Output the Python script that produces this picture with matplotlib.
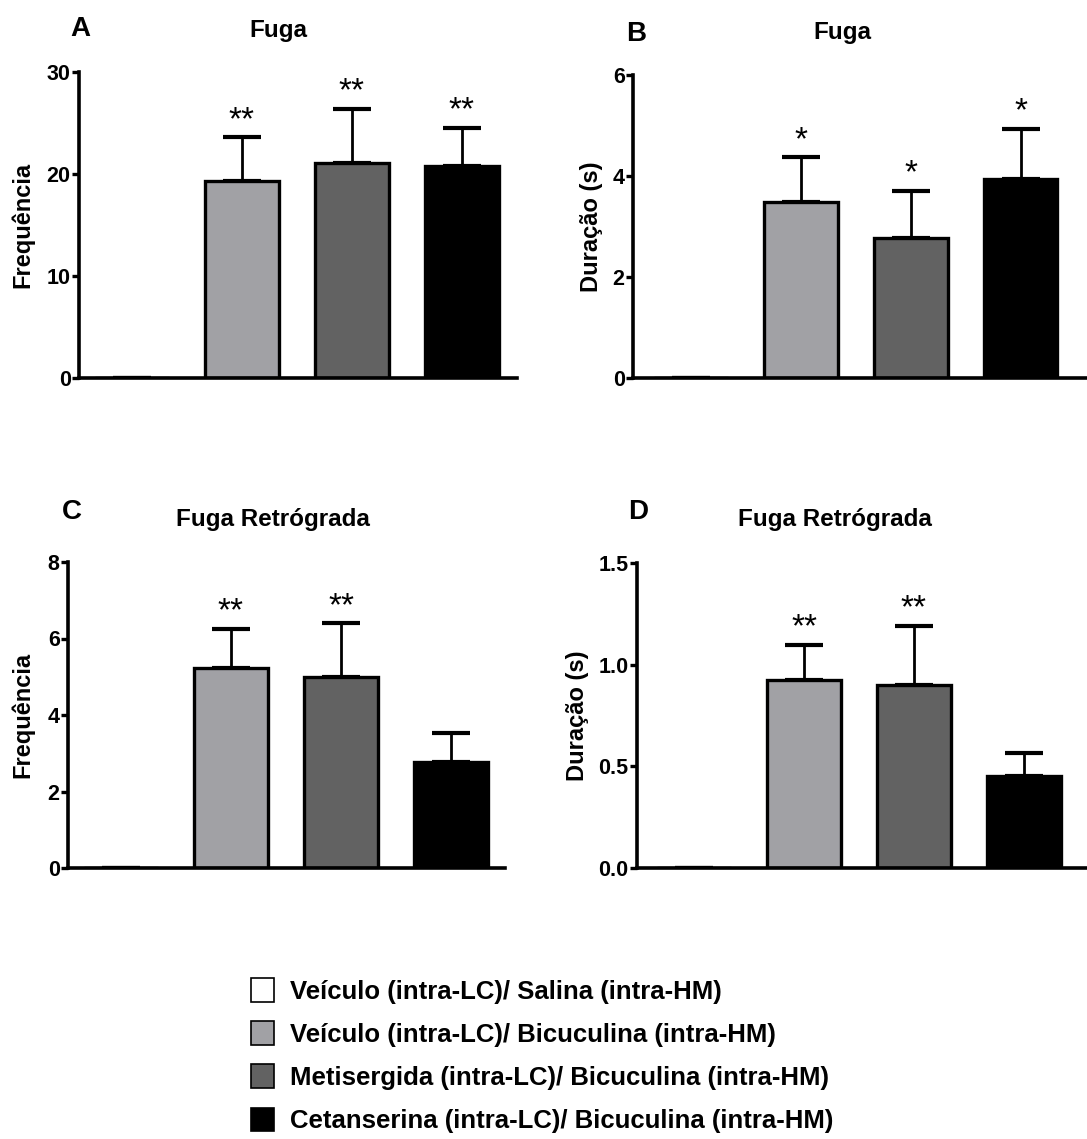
#!/usr/bin/env python3
"""Fuga / Fuga Retrograda bar panels (A-D) with a shared legend."""

import matplotlib
matplotlib.use("Agg")
import matplotlib.pyplot as plt
from matplotlib.patches import Patch

plt.rcParams["font.family"] = ["Liberation Sans", "DejaVu Sans"]
plt.rcParams["font.weight"] = "bold"

W, H = 1087, 1139

groups = [
    "Veículo (intra-LC)/ Salina (intra-HM)",
    "Veículo (intra-LC)/ Bicuculina (intra-HM)",
    "Metisergida (intra-LC)/ Bicuculina (intra-HM)",
    "Cetanserina (intra-LC)/ Bicuculina (intra-HM)",
]
colors = ["#FFFFFF", "#A1A1A5", "#626262", "#000000"]

fuga_freq = [0, 19.3, 21.1, 20.8]
fuga_freq_sem = [0, 4.3, 5.3, 3.7]
fuga_freq_sig = ["", "**", "**", "**"]

fuga_dur = [0, 3.49, 2.77, 3.94]
fuga_dur_sem = [0, 0.88, 0.94, 0.99]
fuga_dur_sig = ["", "*", "*", "*"]

retro_freq = [0, 5.23, 4.99, 2.77]
retro_freq_sem = [0, 1.02, 1.41, 0.76]
retro_freq_sig = ["", "**", "**", ""]

retro_dur = [0, 0.925, 0.90, 0.452]
retro_dur_sem = [0, 0.172, 0.29, 0.114]
retro_dur_sig = ["", "**", "**", ""]


def px_axes(fig, left, right, top, bottom):
    return fig.add_axes([left / W, 1 - bottom / H, (right - left) / W, (bottom - top) / H])


def panel(ax, box, means, sems, sig, ymax, yticks, ticklabels, xlim, ylabel, label_x,
          title, letter, title_xy, letter_xy):
    left, right, top, bottom = box
    x = list(range(len(means)))
    ax.errorbar(x, means, yerr=[[0] * len(sems), sems], fmt="none", ecolor="black",
                elinewidth=2.0, capsize=14, capthick=3, zorder=1)
    ax.bar(x, means, width=0.67, color=colors, edgecolor="black", linewidth=2.4, zorder=2)
    for xi, m, s, t in zip(x, means, sems, sig):
        if t:
            ax.annotate(t, (xi, m + s), textcoords="offset points", xytext=(0, 1),
                        ha="center", va="bottom", fontsize=24, fontweight="normal")
    ax.set_ylim(0, ymax)
    ax.set_xlim(*xlim)
    ax.set_yticks(yticks)
    ax.set_yticklabels(ticklabels, fontsize=15.5, fontweight="bold")
    ax.set_xticks([])
    for side in ("top", "right"):
        ax.spines[side].set_visible(False)
    for side in ("left", "bottom"):
        ax.spines[side].set_linewidth(2.6)
    ax.tick_params(axis="y", direction="out", length=5, width=2.4, pad=1)
    ax.set_ylabel(ylabel, fontsize=17, fontweight="bold")
    ax.yaxis.set_label_coords((label_x - left) / (right - left), 0.5)
    ax.patch.set_alpha(0)
    fig = ax.figure
    fig.text(title_xy[0] / W, 1 - title_xy[1] / H, title, ha="center", va="center",
             fontsize=17.5, fontweight="bold")
    fig.text(letter_xy[0] / W, 1 - letter_xy[1] / H, letter, ha="center", va="center",
             fontsize=20, fontweight="bold")


def main():
    fig = plt.figure(figsize=(W / 100, H / 100), dpi=100)

    box = (79, 517, 72, 378)
    ax = px_axes(fig, *box)
    panel(ax, box, fuga_freq, fuga_freq_sem, fuga_freq_sig, 30, [0, 10, 20, 30],
          ["0", "10", "20", "30"], (-0.48, 3.5), "Frequência", 34,
          "Fuga", "A", (278, 31), (80, 29))

    box = (633, 1092, 75, 378)
    ax = px_axes(fig, *box)
    panel(ax, box, fuga_dur, fuga_dur_sem, fuga_dur_sig, 6, [0, 2, 4, 6],
          ["0", "2", "4", "6"], (-0.53, 3.65), "Duração (s)", 603,
          "Fuga", "B", (842, 32), (636, 34))

    box = (68, 505, 562, 868)
    ax = px_axes(fig, *box)
    panel(ax, box, retro_freq, retro_freq_sem, retro_freq_sig, 8, [0, 2, 4, 6, 8],
          ["0", "2", "4", "6", "8"], (-0.48, 3.49), "Frequência", 34,
          "Fuga Retrógrada", "C", (273, 519), (72, 512))

    box = (637, 1092, 563, 868)
    ax = px_axes(fig, *box)
    panel(ax, box, retro_dur, retro_dur_sem, retro_dur_sig, 1.5, [0, 0.5, 1.0, 1.5],
          ["0.0", "0.5", "1.0", "1.5"], (-0.52, 3.62), "Duração (s)", 589,
          "Fuga Retrógrada", "D", (835, 519), (638, 512))

    handles = [Patch(facecolor=c, edgecolor="black", linewidth=1.2) for c in colors]
    fig.legend(handles, groups, loc="upper left", bbox_to_anchor=(228 / W, 1 - 955 / H),
               frameon=False, handlelength=0.9, handleheight=1.05, handletextpad=0.62,
               labelspacing=0.68, prop={"size": 18.5, "weight": "bold"})

    fig.savefig("out.png", dpi=100)
    plt.close(fig)


if __name__ == "__main__":
    main()
